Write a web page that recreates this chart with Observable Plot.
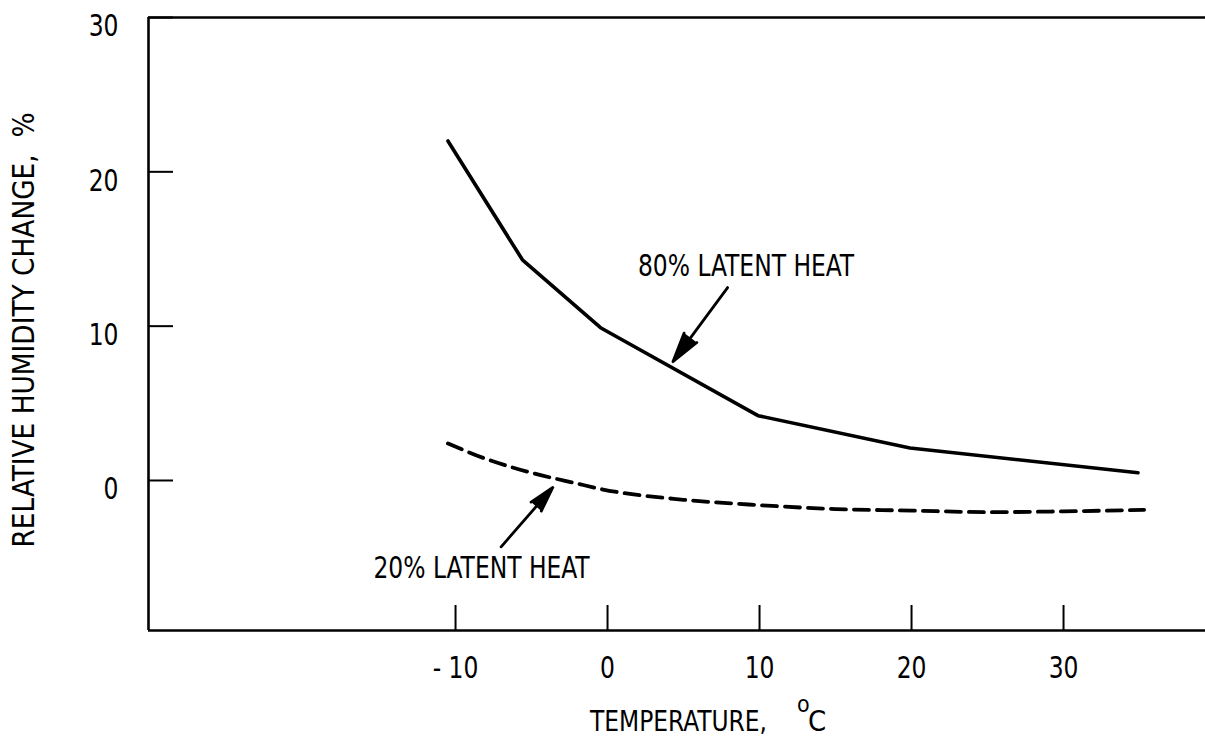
<!DOCTYPE html>
<html><head><meta charset="utf-8">
<script src="https://cdn.jsdelivr.net/npm/d3@7"></script>
<script src="https://cdn.jsdelivr.net/npm/@observablehq/plot@0.6"></script>
<style>
body{margin:0;background:#fff;}
#chart svg{display:block;}
</style></head><body><div id="chart"></div>
<script>
// ---- data ----
const xTicks = [-10, 0, 10, 20, 30];
const yTicks = [0, 10, 20, 30];
const xDomain = [-30.2, 39.34];
const yDomain = [-9.72, 30];

const heat80Temp = [-10.5, -5.6, -0.46, 9.9, 19.9, 34.9];
const heat80RH   = [22.0, 14.3, 9.9, 4.2, 2.1, 0.5];

const heat20Temp = [-10.5, -8, -5, -2, -0.46, 5, 10, 15, 20, 25, 30, 35.3];
const heat20RH   = [2.4, 1.4, 0.5, -0.2, -0.55, -1.25, -1.6, -1.85, -1.95, -2.05, -2.0, -1.9];

const labelText = ["80% LATENT HEAT", "20% LATENT HEAT"];
const labelTemp = [2.0, -15.4];
const labelRH   = [13.9, -5.65];

const arrowFromTemp = [7.9, -7.0];
const arrowFromRH   = [12.5, -4.3];
const arrowToTemp   = [4.3, -3.6];
const arrowToRH     = [7.7, -0.45];

const xTitle = "TEMPERATURE,";
const xTitleUnitSup = "o";
const xTitleUnit = "C";
const yTitle = "RELATIVE HUMIDITY CHANGE,  %";

// ---- build tables ----
const solid = heat80Temp.map((t, i) => ({t, rh: heat80RH[i]}));
const dashed = heat20Temp.map((t, i) => ({t, rh: heat20RH[i]}));
const labels = labelText.map((s, i) => ({s, t: labelTemp[i], rh: labelRH[i]}));
const arrows = arrowFromTemp.map((t, i) => ({t1: t, r1: arrowFromRH[i], t2: arrowToTemp[i], r2: arrowToRH[i]}));

const FONT = '"DejaVu Sans Condensed","Liberation Sans Narrow",sans-serif';

const plot = Plot.plot({
  width: 1205,
  height: 738,
  marginLeft: 148,
  marginTop: 17,
  marginBottom: 108,
  marginRight: 0,
  style: {fontFamily: FONT, fontSize: "31px", background: "#fff", color: "#000", overflow: "visible"},
  x: {domain: xDomain, label: null},
  y: {domain: yDomain, label: null},
  marks: [
    // frame: left, top, bottom
    Plot.ruleX([xDomain[0]], {stroke: "#000", strokeWidth: 2.6}),
    Plot.ruleY([yDomain[1]], {stroke: "#000", strokeWidth: 2.4}),
    Plot.ruleY([yDomain[0]], {stroke: "#000", strokeWidth: 2.6}),
    // ticks (inward)
    Plot.axisY(yTicks, {tickSize: -25, tickFormat: () => "", strokeWidth: 2, label: null}),
    Plot.axisX(xTicks, {tickSize: -25, tickFormat: () => "", strokeWidth: 2, label: null}),
    // tick labels
    Plot.axisY(yTicks, {tickSize: 0, tickPadding: 30, dy: 9, fontSize: 31, label: null}),
    Plot.axisX(xTicks, {tickSize: 0, tickPadding: 25, fontSize: 31, label: null,
      tickFormat: d => d < 0 ? "- " + Math.abs(d) : String(d)}),
    // data
    Plot.line(solid, {x: "t", y: "rh", stroke: "#000", strokeWidth: 3.6, strokeLinejoin: "round", strokeLinecap: "round"}),
    Plot.line(dashed, {x: "t", y: "rh", stroke: "#000", strokeWidth: 3.8, strokeDasharray: "15,8", curve: "monotone-x"}),
    // annotations
    Plot.arrow(arrows, {x1: "t1", y1: "r1", x2: "t2", y2: "r2", stroke: "#000", fill: "#000", strokeWidth: 2.8, headLength: 18, headAngle: 30}),
    Plot.text(labels, {x: "t", y: "rh", text: "s", textAnchor: "start", lineAnchor: "middle", fontSize: 31, fill: "#000"})
  ]
});

document.getElementById("chart").appendChild(plot);

// narrow the lettering to match the condensed drafting font
const svg = d3.select(plot);
svg.selectAll("text").each(function() {
  const L = this.getComputedTextLength();
  if (L > 0) {
    this.setAttribute("textLength", (L * 0.84).toFixed(1));
    this.setAttribute("lengthAdjust", "spacingAndGlyphs");
  }
});

// axis titles
const xt = svg.append("text")
  .attr("x", 590).attr("y", 731)
  .attr("text-anchor", "start")
  .attr("font-family", FONT).attr("font-size", 29).attr("fill", "#000");
xt.append("tspan").attr("textLength", 177).attr("lengthAdjust", "spacingAndGlyphs").text(xTitle);
xt.append("tspan").attr("x", 797).attr("dy", -19).attr("font-size", 23).text(xTitleUnitSup);
xt.append("tspan").attr("x", 808).attr("dy", 19).text(xTitleUnit);

svg.append("text")
  .attr("transform", "translate(34,330) rotate(-90)")
  .attr("text-anchor", "middle")
  .attr("font-family", FONT).attr("font-size", 30).attr("fill", "#000")
  .attr("textLength", 435).attr("lengthAdjust", "spacingAndGlyphs")
  .text(yTitle);
</script>
</body></html>
